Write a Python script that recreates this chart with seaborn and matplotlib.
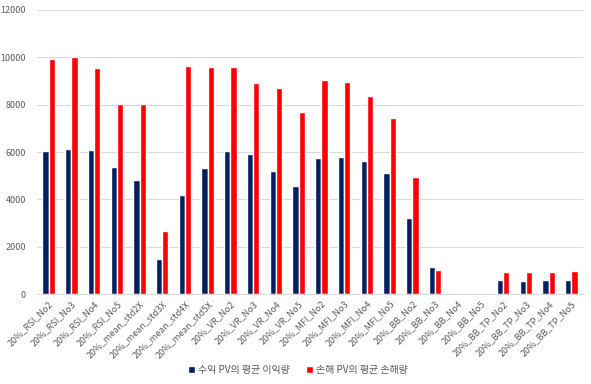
import pandas as pd
import seaborn as sns
import matplotlib.pyplot as plt

# =====================
# Data
# =====================
categories = [
    "20%_RSI_No2", "20%_RSI_No3", "20%_RSI_No4", "20%_RSI_No5",
    "20%_mean_std2X", "20%_mean_std3X", "20%_mean_std4X", "20%_mean_std5X",
    "20%_VR_No2", "20%_VR_No3", "20%_VR_No4", "20%_VR_No5",
    "20%_MFI_No2", "20%_MFI_No3", "20%_MFI_No4", "20%_MFI_No5",
    "20%_BB_No2", "20%_BB_No3", "20%_BB_No4", "20%_BB_No5",
    "20%_BB_TP_No2", "20%_BB_TP_No3", "20%_BB_TP_No4", "20%_BB_TP_No5",
]
profit_avg = [6050, 6150, 6080, 5350, 4830, 1500, 4200, 5320,
              6040, 5915, 5220, 4560, 5760, 5800, 5630, 5095,
              3200, 1155, 0, 0, 590, 550, 590, 590]
loss_avg = [9950, 10000, 9550, 8050, 8030, 2680, 9645, 9580,
            9580, 8910, 8690, 7675, 9040, 8945, 8365, 7420,
            4930, 1040, 0, 0, 930, 930, 930, 970]
series_names = ["수익 PV의 평균 이익량", "손해 PV의 평균 손해량"]

df = pd.DataFrame({
    "category": categories * 2,
    "value": profit_avg + loss_avg,
    "series": [series_names[0]] * len(categories) + [series_names[1]] * len(categories),
})

# =====================
# Plot
# =====================
sns.set_style("white")
plt.rcParams["font.family"] = ["Noto Sans CJK KR", "DejaVu Sans"]

fig, ax = plt.subplots(figsize=(5.91, 3.84), dpi=100)
fig.subplots_adjust(left=0.063, right=0.986, top=0.974, bottom=0.234)

sns.barplot(data=df, x="category", y="value", hue="series",
            palette=["#002060", "#FF0000"], width=0.55, gap=0,
            saturation=1, ax=ax)

ax.set_ylim(0, 12000)
ax.set_yticks(range(0, 12001, 2000))
ax.set_xlim(-0.5, len(categories) - 0.5)
ax.yaxis.grid(True, color="#D9D9D9", linewidth=0.8)
ax.set_axisbelow(True)
for s in ["top", "right", "left"]:
    ax.spines[s].set_visible(False)
ax.spines["bottom"].set_color("#D9D9D9")
ax.tick_params(axis="both", length=0, labelsize=6.5, labelcolor="#595959")
ax.tick_params(axis="y", pad=8)
plt.setp(ax.get_xticklabels(), rotation=45, ha="right", rotation_mode="anchor")
ax.set_xlabel("")
ax.set_ylabel("")

ax.legend(loc="lower center", bbox_to_anchor=(0.478, -0.315), ncol=2,
          frameon=False, fontsize=7.2, handlelength=0.7, handleheight=0.7,
          handletextpad=0.3, columnspacing=1.6, labelcolor="#595959")

plt.savefig("out.png", dpi=100)
